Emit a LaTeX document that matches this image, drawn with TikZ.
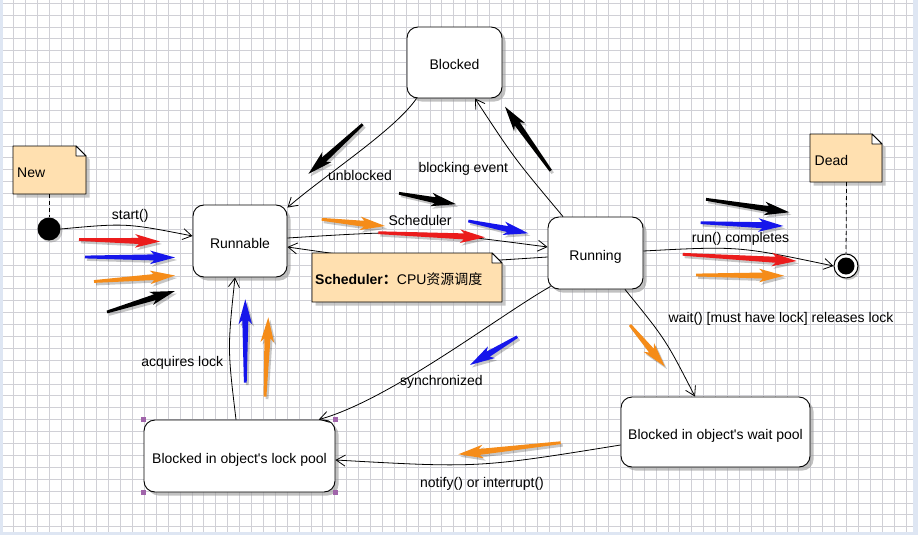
\documentclass[tikz,border=0pt]{standalone}
\usepackage{fontspec}
\setmainfont{Liberation Sans}
\newfontfamily\cjkfont{Noto Sans CJK SC}
\usetikzlibrary{arrows.meta,shadows}
\definecolor{notec}{RGB}{255,224,176}
\definecolor{gridc}{RGB}{208,208,214}
\definecolor{framec}{RGB}{222,230,243}
\definecolor{fred}{RGB}{235,28,28}
\definecolor{fblue}{RGB}{22,22,235}
\definecolor{forange}{RGB}{245,140,25}
\definecolor{handlec}{RGB}{160,100,170}
\newcommand\lblfont{\fontsize{14}{16}\selectfont}
\newcommand\fatarr[5]{%
  \pgfmathsetmacro\fatang{atan2((#3)-(#5),(#4)-(#2))}%
  \pgfmathsetmacro\fatlen{veclen((#4)-(#2),(#5)-(#3))}%
  \fill[black,opacity=.22,shift={(#2+2,#3+2.5)},rotate=\fatang]
    (0,-1.4) -- ({\fatlen-21},-3) -- ({\fatlen-25},-6.8) -- (\fatlen,0)
    -- ({\fatlen-25},6.8) -- ({\fatlen-21},3) -- (0,1.4) -- cycle;
  \fill[#1,shift={(#2,#3)},rotate=\fatang]
    (0,-1.4) -- ({\fatlen-21},-3) -- ({\fatlen-25},-6.8) -- (\fatlen,0)
    -- ({\fatlen-25},6.8) -- ({\fatlen-21},3) -- (0,1.4) -- cycle;}
\newcommand\umlnote[4]{%
  \fill[black!30,opacity=.7] (#1+3.5,#2+3.5) -- (#3-10+3.5,#2+3.5) -- (#3+3.5,#2+13.5)
     -- (#3+3.5,#4+3.5) -- (#1+3.5,#4+3.5) -- cycle;
  \draw[fill=notec,line width=0.8pt] (#1,#2) -- (#3-10,#2) -- (#3,#2+10) -- (#3,#4) -- (#1,#4) -- cycle;
  \draw[fill=white,line width=0.8pt] (#3-10,#2) -- (#3-10,#2+10) -- (#3,#2+10) -- cycle;}
\tikzset{
  gridline/.style={draw=gridc,line width=0.7pt},
  state/.style={draw,line width=0.9pt,rounded corners=11pt,fill=white,inner sep=0pt,
    font=\lblfont,text height=15pt,text depth=0pt,
    drop shadow={shadow xshift=3.5pt,shadow yshift=-3.5pt,fill=black!40,opacity=.6}},
  conn/.style={draw,line width=0.8pt,-{Straight Barb[length=9pt,width=11pt]}},
  lbl/.style={font=\lblfont,inner sep=0pt,text height=10pt,text depth=0pt},
  notetext/.style={font=\lblfont,inner sep=0pt,text height=10pt,text depth=0pt,anchor=west},
  dashline/.style={draw,line width=0.8pt,dash pattern=on 4pt off 3pt},
}
\begin{document}
\begin{tikzpicture}[x=1pt,y=-1pt,line join=round]
\useasboundingbox (0,0) rectangle (918,535);
\fill[white] (0,0) rectangle (918,535);
\foreach \i in {0,...,77} \draw[gridline] ({1.5+11.9*\i},0) -- ({1.5+11.9*\i},535);
\foreach \j in {0,...,44} \draw[gridline] (0,{3.1+11.9*\j}) -- (918,{3.1+11.9*\j});
\fill[framec] (0,0) rectangle (2.5,535);
\fill[framec] (913,0) rectangle (918,535);
\fill[framec] (0,532) rectangle (918,535);

% states
\node[state,minimum width=95pt,minimum height=71pt] (blocked) at (454.5,62.5) {Blocked};
\node[state,minimum width=94pt,minimum height=72pt] (runnable) at (240,241) {Runnable};
\node[state,minimum width=95pt,minimum height=72pt] (running) at (595.5,253) {Running};
\node[state,minimum width=191pt,minimum height=72pt] (lock) at (239.5,456) {Blocked in object\textquotesingle s lock pool};
\node[state,minimum width=189pt,minimum height=70pt] (wait) at (715.5,432) {Blocked in object\textquotesingle s wait pool};

% selection handles
\fill[handlec] (lock.north west) ++(-2.5,-2.5) rectangle ++(5,5);
\fill[handlec] (lock.north east) ++(-2.5,-2.5) rectangle ++(5,5);
\fill[handlec] (lock.south west) ++(-2.5,-2.5) rectangle ++(5,5);
\fill[handlec] (lock.south east) ++(-2.5,-2.5) rectangle ++(5,5);

% initial and final states
\node[circle,fill=black,minimum size=23pt,inner sep=0pt,
  drop shadow={shadow xshift=2pt,shadow yshift=-2pt,fill=black!40,opacity=.5}] (start) at (49,229) {};
\node[circle,draw,line width=1pt,fill=white,minimum size=24pt,inner sep=0pt,
  drop shadow={shadow xshift=2pt,shadow yshift=-2pt,fill=black!40,opacity=.5}] (end) at (846,266) {};
\node[circle,fill=black,minimum size=17pt,inner sep=0pt] (endc) at (end.center) {};

% connectors
\draw[conn] (start.east) .. controls (126,223) .. ([yshift=5pt]runnable.west)
  node[lbl,pos=.5,xshift=4pt,yshift=11pt] (lstart) {start()};
\draw[conn] ([xshift=-38pt]blocked.south) .. controls (395,130) and (325,175) .. ([yshift=-3pt]runnable.north east)
  node[lbl,pos=.5,xshift=2pt,yshift=-23pt] (lunbl) {unblocked};
\draw[conn] ([xshift=-32.5pt]running.north) .. controls (514,158) .. ([xshift=20.5pt]blocked.south)
  node[lbl,pos=.5,xshift=-52pt,yshift=-10pt] (lbe) {blocking event};
\draw[conn] ([yshift=3pt]runnable.east) .. controls (417,230) .. ([yshift=6pt]running.west)
  node[lbl,pos=.5,xshift=3pt,yshift=13pt] (lsch) {Scheduler};
\draw[conn] ([yshift=-4pt]running.west) .. controls (417,265.5) .. ([yshift=-6pt]runnable.east);
\draw[conn] ([yshift=2pt]running.east) .. controls (738.5,246) .. (end.west)
  node[lbl,pos=.5,xshift=2pt,yshift=12pt] (lrun) {run() completes};
\draw[conn] ([xshift=29.5pt]running.south) .. controls (665.6,339.4) .. ([xshift=-20.5pt]wait.north)
  node[lbl,pos=.5,anchor=west,xshift=4pt,yshift=23pt] (lwait) {wait() [must have lock] releases lock};
\draw[conn] ([xshift=3pt,yshift=3pt]running.south west) .. controls (500,315) and (390,400) .. ([xshift=-16.7pt]lock.north east)
  node[lbl,pos=.5,xshift=-1pt,yshift=-24pt] (lsync) {synchronized};
\draw[conn] ([yshift=-13pt]wait.west) .. controls (478,468) .. ([yshift=-4pt]lock.east)
  node[lbl,pos=.5,xshift=4pt,yshift=-18pt] (lnot) {notify() or interrupt()};
\draw[conn] ([xshift=-3.5pt]lock.north) .. controls (227.5,348.5) .. ([xshift=-5pt]runnable.south)
  node[lbl,pos=.5,anchor=east,xshift=-6pt,yshift=-12.5pt] (lacq) {acquires lock};

% notes
\umlnote{13}{146}{86}{194}
\node[notetext] (new) at (17,172) {New};
\umlnote{810}{134}{882}{182}
\node[notetext] (dead) at (814.5,160) {Dead};
\umlnote{312}{253}{502}{302}
\node[notetext] (sched) at (315,279) {\textbf{Scheduler}{\cjkfont\bfseries ：}CPU{\cjkfont 资源调度}};
\draw[dashline] (49,194) -- (start.north);
\draw[dashline] (846.5,182) -- (end.north);

% decorative arrows
\fatarr{fred}{79}{239.5}{160}{241.5}
\fatarr{fblue}{85}{257}{175}{257.5}
\fatarr{forange}{94}{281.5}{175}{275.5}
\fatarr{black}{107}{312}{175}{291}
\fatarr{black}{362.7}{124.3}{308.3}{174}
\fatarr{black}{550.7}{170.7}{505}{106.7}
\fatarr{black}{399}{193.3}{456}{204.2}
\fatarr{forange}{321.7}{219.3}{385}{226}
\fatarr{fred}{378.3}{232.7}{485}{237.3}
\fatarr{fblue}{468.3}{221}{528.3}{233.3}
\fatarr{black}{706}{199.3}{789.3}{212.3}
\fatarr{fblue}{700.7}{222.7}{783.3}{226}
\fatarr{fred}{682.7}{254.3}{796.7}{261}
\fatarr{forange}{696}{275}{784}{275.7}
\fatarr{forange}{630}{325}{665}{366.7}
\fatarr{fblue}{517.3}{336.7}{470}{365}
\fatarr{forange}{560.7}{442.7}{458.3}{454.3}
\fatarr{fblue}{245.3}{382.7}{245.3}{299.3}
\fatarr{forange}{265}{396.7}{268.3}{317.3}
\end{tikzpicture}
\end{document}
